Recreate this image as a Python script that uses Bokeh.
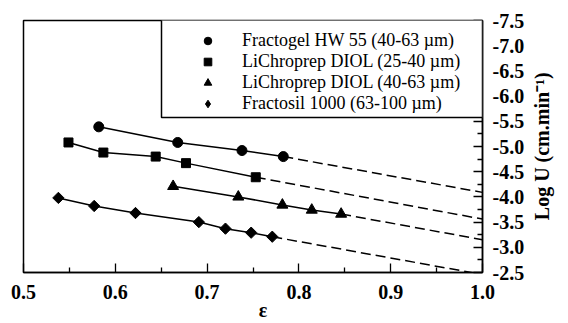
import math
import json
from bokeh.plotting import figure
from bokeh.models import (Range1d, FixedTicker, NumeralTickFormatter, Legend, LegendItem,
                          BoxAnnotation, LinearAxis, CustomJSTickFormatter)
from bokeh.embed import file_html
from bokeh.resources import INLINE

# ---- data ----
labels = ["Fractogel HW 55 (40-63 µm)", "LiChroprep DIOL (25-40 µm)",
          "LiChroprep DIOL (40-63 µm)", "Fractosil 1000 (63-100 µm)"]

circ_x = [0.582, 0.668, 0.738, 0.783]
circ_y = [-5.39, -5.08, -4.92, -4.80]

sq_x = [0.549, 0.587, 0.644, 0.677, 0.753]
sq_y = [-5.08, -4.88, -4.80, -4.67, -4.39]

tri_x = [0.663, 0.734, 0.782, 0.814, 0.846]
tri_y = [-4.21, -4.00, -3.84, -3.74, -3.66]

dia_x = [0.538, 0.577, 0.622, 0.691, 0.720, 0.748, 0.771]
dia_y = [-3.98, -3.82, -3.68, -3.50, -3.37, -3.29, -3.21]

# extrapolated log U at eps = 1.0 (dashed lines)
extrap_eps = 1.0
extrap_y = [-4.09, -3.56, -3.15, -2.46]

x_ticks = [0.5, 0.6, 0.7, 0.8, 0.9, 1.0]
x_minor = [0.55, 0.65, 0.75, 0.85, 0.95]
y_ticks = [-7.5, -7.0, -6.5, -6.0, -5.5, -5.0, -4.5, -4.0, -3.5, -3.0, -2.5]
y_minor = [-7.25, -6.75, -6.25, -5.75, -5.25, -4.75, -4.25, -3.75, -3.25, -2.75]

x_title = "ε"
y_title = "Log U (cm.min⁻¹)"

FONT = "Liberation Serif"
W, H = 568, 323
BL, BT, BR, BB = 23, 20, 86, 50
FW, FH = W - BL - BR, H - BT - BB

p = figure(width=W, height=H, output_backend="svg", toolbar_location=None,
           x_range=Range1d(0.5, 1.0), y_range=Range1d(-2.5, -7.5),
           y_axis_location="right",
           min_border_left=BL, min_border_right=BR, min_border_top=BT, min_border_bottom=BB)
p.grid.visible = False
p.outline_line_color = "black"
p.outline_line_width = 1.5
p.background_fill_color = "white"
p.border_fill_color = "white"

xa = p.xaxis[0]
xa.ticker = FixedTicker(ticks=x_ticks, minor_ticks=x_minor)
xa.formatter = NumeralTickFormatter(format="0.0")
ya = p.yaxis[0]
ya.ticker = FixedTicker(ticks=y_ticks, minor_ticks=y_minor)
ya.formatter = NumeralTickFormatter(format="0.0")

for ax in (xa, ya):
    ax.axis_line_color = "black"
    ax.axis_line_width = 1.5
    ax.major_tick_in = 9
    ax.major_tick_out = 0
    ax.minor_tick_in = 5
    ax.minor_tick_out = 0
    ax.major_tick_line_color = "black"
    ax.minor_tick_line_color = "black"
    ax.major_tick_line_width = 1.3
    ax.minor_tick_line_width = 1.3
    ax.major_label_text_font = FONT
    ax.major_label_text_font_style = "bold"
    ax.major_label_text_font_size = "20px"
    ax.major_label_text_color = "black"

xa.major_label_standoff = 12
ya.major_label_standoff = 10


def title_axis(text, tick, orientation, standoff):
    return LinearAxis(ticker=FixedTicker(ticks=[tick], minor_ticks=[]),
                      formatter=CustomJSTickFormatter(code="return " + json.dumps(text) + ";"),
                      major_label_orientation=orientation,
                      major_tick_in=0, major_tick_out=0, minor_tick_in=0, minor_tick_out=0,
                      axis_line_alpha=0.0, major_label_standoff=standoff,
                      major_label_text_font=FONT, major_label_text_font_style="bold",
                      major_label_text_font_size="20px", major_label_text_color="black",
                      major_label_text_line_height=1.0)


# x title, a little right of the centre as in the original
x_span = x_ticks[-1] - x_ticks[0]
x_anchor = (x_ticks[0] + x_ticks[-1]) / 2 + 10 * x_span / FW
p.add_layout(title_axis(x_title, x_anchor, "horizontal", -3), "below")

# y title: reads bottom-to-top; the rotated label starts at its tick,
# so shift the anchor down by half its length.
y_span = abs(y_ticks[-1] - y_ticks[0])
title_len_px = 148
y_anchor = (y_ticks[0] + y_ticks[-1]) / 2 + (title_len_px / 2) * y_span / FH
p.add_layout(title_axis(y_title, y_anchor, math.pi / 2, 15), "right")

rs = []
series = [(circ_x, circ_y, "circle", 10, 0.0),
          (sq_x, sq_y, "square", 9, 0.0),
          (tri_x, tri_y, "triangle", 11, 0.0),
          (dia_x, dia_y, "square", 8, math.pi / 4)]
for (xs, ys, mk, sz, ang), ye in zip(series, extrap_y):
    p.line(xs, ys, line_color="black", line_width=1.5)
    p.line([xs[-1], extrap_eps], [ys[-1], ye], line_color="black", line_width=1.5,
           line_dash="10 5")
    r = p.scatter(xs, ys, marker=mk, size=sz, angle=ang, fill_color="black",
                  line_color="black")
    rs.append(r)

# legend-only diamond glyph (legend ignores marker angle)
dia_leg = p.scatter(dia_x, dia_y, marker="diamond", size=12, fill_color="black",
                    line_color="black", visible=False)
leg_renderers = [rs[0], rs[1], rs[2], dia_leg]

# legend frame
p.add_layout(BoxAnnotation(left=138, right=FW, bottom=155, top=FH,
                           left_units="screen", right_units="screen",
                           bottom_units="screen", top_units="screen",
                           fill_color="white", fill_alpha=1.0,
                           line_color="black", line_alpha=1.0, line_width=1.5))

legend = Legend(items=[LegendItem(label=l, renderers=[r]) for l, r in zip(labels, leg_renderers)],
                location="top_right", margin=0, padding=10, spacing=-3,
                glyph_width=19, glyph_height=19, label_height=19, label_width=230,
                label_standoff=25, border_line_alpha=0.0,
                background_fill_alpha=0.0, label_text_font=FONT,
                label_text_line_height=1.0,
                label_text_font_size="18px", label_text_color="black")
p.add_layout(legend)

open("out.html", "w").write(file_html(p, INLINE))
